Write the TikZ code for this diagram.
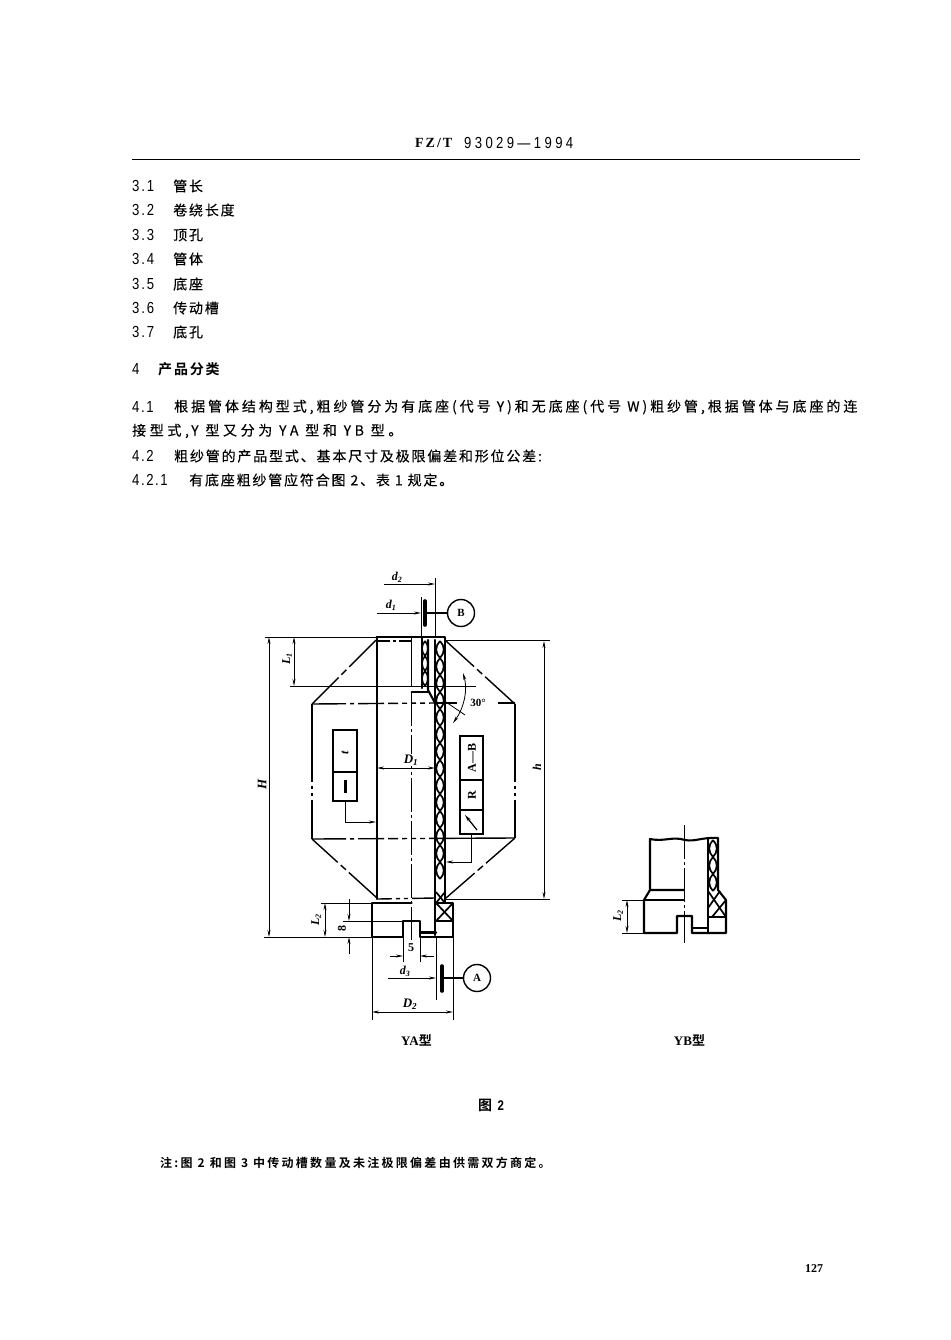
\documentclass[tikz,border=0pt]{standalone}
\usepackage{fontspec}
\setmainfont{Liberation Serif}
\newfontfamily\cj[FakeBold=0.3]{Noto Sans CJK SC}
\newfontfamily\cjb{Noto Sans CJK SC}[BoldFont={Noto Sans CJK SC Bold}]
\newfontfamily\dg[FakeStretch=0.82]{Liberation Sans}
\newcommand{\fs}[1]{\fontsize{#1}{#1}\selectfont}
\usetikzlibrary{arrows.meta}
\tikzset{
  x=1pt,y=-1pt,
  txt/.style={anchor=west,inner sep=0pt,font=\fs{14}\cj},
  numb/.style={anchor=west,inner sep=0pt,font=\fs{16}\dg},
  lab/.style={inner sep=0pt,font=\fs{12}\itshape\bfseries},
  plainlab/.style={inner sep=0pt,font=\fs{12}\bfseries},
  thickl/.style={line width=2.1pt,line join=round,line cap=round},
  thinl/.style={line width=.8pt},
  dimen/.style={line width=.8pt,{Stealth[length=7pt,width=3pt]}-{Stealth[length=7pt,width=3pt]}},
  toarrow/.style={line width=.8pt,-{Stealth[length=7pt,width=3pt]}},
  axisl/.style={line width=1pt,dash pattern=on 34pt off 3pt on 3pt off 3pt},
  centrea/.style={line width=1.4pt,dash pattern=on 38pt off 4pt on 7pt off 4pt on 200pt},
  centreb/.style={line width=1.4pt,dash pattern=on 78pt off 4pt on 3pt off 4pt on 3pt off 4pt on 200pt},
  centrec/.style={line width=1.4pt,dash pattern=on 34pt off 4pt on 4pt off 4pt on 26pt off 4pt on 10pt off 4pt on 5pt off 4pt on 5pt off 4pt on 5pt off 4pt on 200pt},
  hatch/.style={line width=1.7pt},
  bar/.style={line width=3.6pt,line cap=round},
  datum/.style={circle,draw,line width=1.4pt,minimum size=27pt,inner sep=0pt,font=\fs{11}\bfseries},
  tol/.style={draw,line width=1.1pt},
}
\begin{document}
\begin{tikzpicture}
\useasboundingbox (0,0) rectangle (950,1340);
% page text
\node[inner sep=0pt,anchor=west,font=\fs{14}\bfseries] (head) at (415,143) {\addfontfeature{LetterSpace=14}FZ/T};
\node[numb,name=headn] at (464,143) {\addfontfeature{LetterSpace=21}93029—1994};
\draw[line width=1pt] (132,160) -- (860,160);
\foreach \n/\t/\y in {a/3.1/186,b/3.2/210,c/3.3/235,d/3.4/259,e/3.5/284,f/3.6/308,g/3.7/332}{
  \node[numb,name=num\n] at (132,\y) {\addfontfeature{LetterSpace=12}\t};
}
\node[txt,name=t1] at (173,186) {\addfontfeature{LetterSpace=13}管长};
\node[txt,name=t2] at (173,210) {\addfontfeature{LetterSpace=13}卷绕长度};
\node[txt,name=t3] at (173,235) {\addfontfeature{LetterSpace=13}顶孔};
\node[txt,name=t4] at (173,259) {\addfontfeature{LetterSpace=13}管体};
\node[txt,name=t5] at (173,284) {\addfontfeature{LetterSpace=13}底座};
\node[txt,name=t6] at (173,308) {\addfontfeature{LetterSpace=13}传动槽};
\node[txt,name=t7] at (173,332) {\addfontfeature{LetterSpace=13}底孔};
\node[numb,name=n4] at (132,369) {4};
\node[txt,font=\fs{14}\cjb\bfseries,name=t4h] at (158,369) {\addfontfeature{LetterSpace=13}产品分类};
\node[numb,name=n41] at (132,407) {\addfontfeature{LetterSpace=10}4.1};
\node[txt,name=l41] at (174,407) {\addfontfeature{LetterSpace=21}根据管体结构型式,粗纱管分为有底座(代号 Y)和无底座(代号 W)粗纱管,根据管体与底座的连};
\node[txt,name=l41b] at (132,431) {\addfontfeature{LetterSpace=26}接型式,Y 型又分为 YA 型和 YB 型。};
\node[numb,name=n42] at (132,456) {\addfontfeature{LetterSpace=10}4.2};
\node[txt,name=l42] at (174,456) {\addfontfeature{LetterSpace=13}粗纱管的产品型式、基本尺寸及极限偏差和形位公差:};
\node[numb,name=n421] at (132,480) {\addfontfeature{LetterSpace=10}4.2.1};
\node[txt,name=l421] at (189,480) {\addfontfeature{LetterSpace=13}有底座粗纱管应符合图 2、表 1 规定。};
% ---- YA : outline envelope
\draw[centrea] (376,640) -- (312,704);
\draw[centrea] (446,641) -- (515,704);
\draw[centreb] (312,704) -- (312,839);
\draw[centreb] (515,704) -- (515,838);
\draw[centrea] (377,898) -- (312,839);
\draw[centrea] (446,898) -- (515,838);
\draw[centrec] (312,704) -- (435,703);
\draw[line width=1.4pt] (435,703) -- (457,703);
\draw[line width=1.4pt] (498,703) -- (515,703);
\draw[centrec] (312,839) -- (514,838);
\draw[axisl] (411.7,692) -- (411.7,940);
\draw[line width=1.2pt,dash pattern=on 12pt off 3pt on 3pt off 3pt] (378,641) -- (411,641);
% hatch of the wall
\foreach \y in {641,658,...,875}{
  \draw[hatch] (440,\y) .. controls (445,\y+5) and (445,\y+12) .. (440,\y+17);
  \draw[hatch] (440,\y) .. controls (435,\y+5) and (435,\y+12) .. (440,\y+17);
}
\foreach \y in {641,656,671}{
  \draw[line width=1.6pt] (425,\y) .. controls (429,\y+5) and (429,\y+10) .. (425,\y+15);
  \draw[line width=1.6pt] (425,\y) .. controls (421,\y+5) and (421,\y+10) .. (425,\y+15);
}
\draw[hatch] (436,903) -- (453,921);
\draw[hatch] (453,903) -- (436,921);
\draw[hatch] (436,892) -- (445,903);
\draw[hatch] (445,892) -- (436,903);
% heavy outline
\draw[thickl] (376.7,637) -- (445,637) -- (445,903);
\draw[thickl] (376.7,637) -- (376.7,899);
\draw[thickl] (435,640) -- (435,935);
\draw[thickl] (422,637) -- (422,688);
\draw[thickl] (428,640) -- (428,690) -- (435,703);
\draw[line width=1.2pt] (411.7,637) -- (411.7,686);
\draw[thickl] (411.7,692) -- (428,692);
\draw[line width=1.4pt,dash pattern=on 14pt off 4pt on 4pt off 4pt on 4pt off 4pt on 60pt] (378,899) -- (435,898);
\draw[thickl] (411.7,903) -- (372,903) -- (372,937) -- (403,937) -- (403,921) -- (420,921) -- (420,937) -- (453,937) -- (453,903) -- (436,903);
\draw[thickl] (420,932.5) -- (436,932.5);
\draw[thickl] (436,921) -- (453,921);
% dimensions
\draw[thinl] (265,637) -- (376,637);
\draw[thinl] (445,640.5) -- (550,640.5);
\draw[thinl] (290,686) -- (476,686);
\draw[thinl] (446,899) -- (550,899);
\draw[thinl] (264,937) -- (372,937);
\draw[thinl] (321,903) -- (372,903);
\draw[thinl] (343,921) -- (403,921);
\draw[dimen] (269,637) -- (269,937);
\draw[dimen] (294,637) -- (294,686);
\draw[dimen] (325,903) -- (325,937);
\draw[toarrow] (349,899) -- (349,921);
\draw[toarrow] (349,954) -- (349,937);
\draw[dimen] (544,641) -- (544,899);
\draw[dimen] (377,768) -- (435,768);
% top diameters and datum B
\draw[thinl] (435,578) -- (435,637);
\draw[thinl] (421,597) -- (421,637);
\draw[toarrow] (384,584) -- (435,584);
\draw[toarrow] (377,613) -- (421,613);
\coordinate (bb) at (425,613);
\node[datum] (B) at (461,613) {B};
\draw[bar] (425,601) -- (425,625);
\draw[line width=1.2pt] (bb) -- (B);
% bottom diameters and datum A
\draw[thinl] (403,937) -- (403,962);
\draw[thinl] (420,937) -- (420,962);
\draw[thinl] (436,937) -- (436,1000);
\draw[thinl] (372,937) -- (372,1020);
\draw[thinl] (453,937) -- (453,1020);
\draw[toarrow] (390,956) -- (403,956);
\draw[toarrow] (434,956) -- (420,956);
\draw[toarrow] (388,978) -- (436,978);
\coordinate (ab) at (442,978);
\node[datum] (A) at (477,978) {A};
\draw[bar] (442,966) -- (442,991);
\draw[line width=1.2pt] (ab) -- (A);
\draw[dimen] (372,1012) -- (453,1012);
% 30 degree arc
\draw[dimen] (463,673) .. controls (468,690) and (464,708) .. (453,723);
\draw[thinl] (446,702) -- (465,715);
% tolerance frames
\node[tol,minimum width=24pt,minimum height=42pt,inner sep=0pt] (f1) at (345,751) {};
\node[tol,minimum width=24pt,minimum height=29pt,inner sep=0pt] (f2) at (345,786.5) {};
\node[lab,rotate=90] (ft) at (345,753) {t};
\fill (344,780) rectangle (346.5,793);
\node[tol,minimum width=23pt,minimum height=44pt,inner sep=0pt] (g1) at (471.5,758) {};
\node[tol,minimum width=23pt,minimum height=30pt,inner sep=0pt] (g2) at (471.5,795) {};
\node[tol,minimum width=23pt,minimum height=24pt,inner sep=0pt] (g3) at (471.5,822) {};
\node[plainlab,rotate=90] (gt) at (472,758) {A—B};
\node[plainlab,rotate=90] (gr) at (472,795) {R};
\draw[line width=1.2pt,-{Stealth[length=7pt,width=3.4pt]}] (477,830) -- (465,815);
\draw[toarrow] (f2.south) |- (376,822);
\draw[toarrow] (g3.south) |- (446,862);
% labels
\node[lab] (ld2) at (397,577) {d\textsubscript{2}};
\node[lab] (ld1) at (391,605) {d\textsubscript{1}};
\node[lab,fill=white,inner sep=1pt] (lD1) at (411,760) {\fs{13}D\textsubscript{1}};
\node[lab,rotate=90] (lH) at (262,784) {\fs{13}H};
\node[lab,rotate=90] (lL1) at (287,659) {L\textsubscript{1}};
\node[lab,rotate=90] (lh) at (537,767) {h};
\node[lab,rotate=90] (lL2) at (316,920) {L\textsubscript{2}};
\node[plainlab,rotate=90] (l8) at (342,928) {8};
\node[plainlab] (l5) at (411,948) {5};
\node[lab] (ld3) at (405,971) {d\textsubscript{3}};
\node[lab] (lD2) at (410,1004) {\fs{13}D\textsubscript{2}};
\node[plainlab,font=\fs{11}\bfseries,fill=white,inner sep=1pt] (l30) at (478,703) {30°};
\node[inner sep=0pt,font=\fs{13}] (ya) at (416.5,1040) {\textbf{YA}{\cjb\bfseries 型}};
% ---- YB
\draw[thickl] (650,890) -- (650,839) .. controls (665,842) and (672,836) .. (685,840) .. controls (695,842) and (702,837) .. (718,838) -- (718,890) -- (726,900) -- (726,933) -- (692,933) -- (692,916) -- (677,916) -- (677,933) -- (644,933) -- (644,900) -- (650,890) -- (684,890);
\draw[thickl] (644,900) -- (684,900);
\draw[thickl] (708,838) -- (708,933);
\draw[thickl] (692,928) -- (708,928);
\draw[thickl] (708,917) -- (726,917);
\foreach \y in {840,857,874}{
  \draw[hatch] (713,\y) .. controls (718,\y+5) and (718,\y+12) .. (713,\y+17);
  \draw[hatch] (713,\y) .. controls (708,\y+5) and (708,\y+12) .. (713,\y+17);
}
\draw[hatch] (708,891) -- (726,917);
\draw[hatch] (720,891) -- (708,908);
\draw[hatch] (726,900) -- (712,917);
\draw[axisl] (684,825) -- (684,943);
\draw[thinl] (622,900) -- (644,900);
\draw[thinl] (622,933) -- (644,933);
\draw[dimen] (627,900) -- (627,933);
\node[lab,rotate=90] (yL2) at (618,916) {L\textsubscript{2}};
\node[inner sep=0pt,font=\fs{13}] (yb) at (689.5,1040) {\textbf{YB}{\cjb\bfseries 型}};
% captions
\node[inner sep=0pt,anchor=west,font=\fs{14}\cjb\bfseries] (fig) at (478,1105) {图 \,{\dg 2}};
\node[txt,font=\fs{12}\cjb\bfseries,name=note] at (160,1163) {\addfontfeature{LetterSpace=19}注:图 2 和图 3 中传动槽数量及未注极限偏差由供需双方商定。};
\node[inner sep=0pt,anchor=west,font=\fs{12}\bfseries] (pg) at (805,1269) {127};
\end{tikzpicture}
\end{document}
